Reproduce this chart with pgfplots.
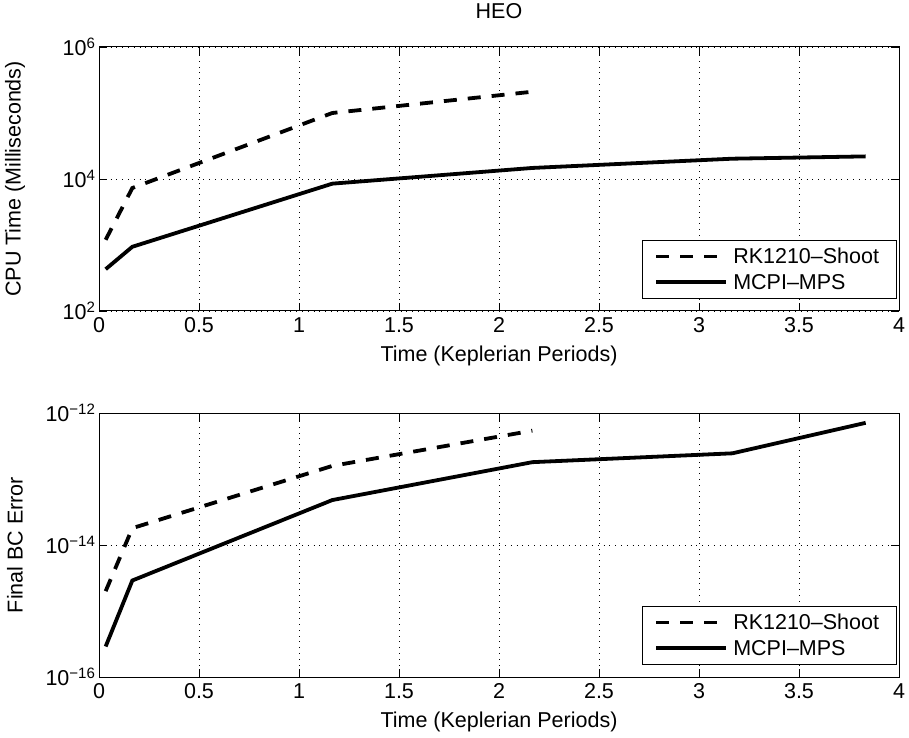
\documentclass[border=0pt]{standalone}
\usepackage{fontspec}
\setmainfont{Liberation Sans}
\usepackage{pgfplots}
\pgfplotsset{compat=1.18}
\newcommand{\fs}{\fontsize{21.5}{25}\selectfont}
\pgfplotsset{
  dashline/.style={black, line width=3.8pt, dash pattern=on 13pt off 11pt},
  solidline/.style={black, line width=3.8pt},
  heo/.style={
    width=800pt, height=264pt, scale only axis,
    xmin=0, xmax=4, xtick={0,0.5,...,4},
    xticklabels={0,0.5,1,1.5,2,2.5,3,3.5,4},
    tick align=inside, tick pos=both,
    major tick length=8pt,
    minor tick num=0,
    grid=major,
    major grid style={black, line width=0.7pt, dash pattern=on 0.8pt off 5pt},
    axis line style={black, line width=1pt},
    tick style={black, line width=0.6pt},
    ticklabel style={font=\fs},
    xticklabel style={yshift=-3pt},
    label style={font=\fs},
    title style={font=\fs, at={(rel axis cs:0.5,1)}, anchor=center, yshift=30pt},
    xlabel={Time (Keplerian Periods)},
    xlabel style={at={(rel axis cs:0.5,0)}, anchor=center, yshift=-45pt},
    ylabel style={at={(rel axis cs:0,0.5)}, anchor=center, yshift=84pt},
    legend style={at={(0.997,0.045)}, anchor=south east, draw=black, line width=1pt,
      font=\fs, inner xsep=12pt, inner ysep=6pt, row sep=5pt, fill=white,
      nodes={inner xsep=5pt}},
    legend cell align=left,
    legend image code/.code={\draw[##1] (0pt,0pt) -- (70pt,0pt);},
  }
}
\begin{document}
\begin{tikzpicture}
\path[use as bounding box] (0pt,0pt) rectangle (909pt,737pt);
\begin{axis}[ymode=log, heo, at={(99pt,426pt)}, anchor=south west,
  title={HEO},
  ymin=1e2, ymax=1e6, ytick={1e2,1e4,1e6},
  yticklabels={10\textsuperscript{2},10\textsuperscript{4},10\textsuperscript{6}},
  ylabel={CPU Time (Milliseconds)}]
\addplot[dashline] coordinates {(0.0333,1200) (0.1667,7300) (1.1667,1.0e5) (2.1667,2.1e5)};
\addlegendentry{RK1210--Shoot}
\addplot[solidline] coordinates {(0.0333,430) (0.1667,940) (1.1667,8500) (2.1667,1.47e4) (3.1667,2.03e4) (3.8333,2.2e4)};
\addlegendentry{MCPI--MPS}
\end{axis}
\begin{axis}[ymode=log, heo, at={(99pt,60pt)}, anchor=south west,
  ymin=1e-16, ymax=1e-12, ytick={1e-16,1e-14,1e-12},
  yticklabels={10\textsuperscript{−16},10\textsuperscript{−14},10\textsuperscript{−12}},
  ylabel={Final BC Error}]
\addplot[dashline] coordinates {(0.0333,2.0e-15) (0.1667,1.8e-14) (1.1667,1.58e-13) (2.1667,5.4e-13)};
\addlegendentry{RK1210--Shoot}
\addplot[solidline] coordinates {(0.0333,2.9e-16) (0.1667,2.9e-15) (1.1667,4.8e-14) (2.1667,1.8e-13) (3.1667,2.45e-13) (3.8333,7.1e-13)};
\addlegendentry{MCPI--MPS}
\end{axis}
\end{tikzpicture}
\end{document}
